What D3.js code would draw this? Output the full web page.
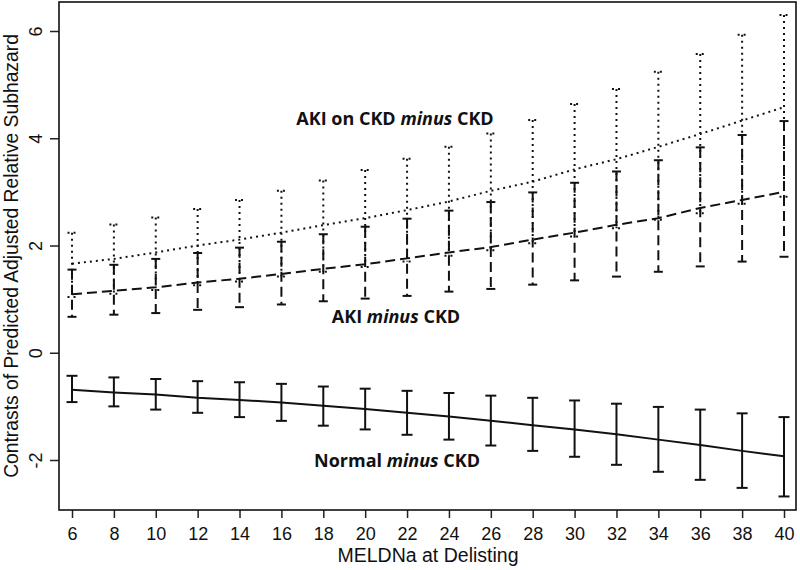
<!DOCTYPE html>
<html>
<head>
<meta charset="utf-8">
<script src="https://cdn.jsdelivr.net/npm/d3@7"></script>
<style>
  html, body { margin: 0; padding: 0; background: #fff; }
  svg { display: block; }
</style>
</head>
<body>
<svg id="chart" width="800" height="570"></svg>
<script>
// ---------------- data ----------------
const meld = [6, 8, 10, 12, 14, 16, 18, 20, 22, 24, 26, 28, 30, 32, 34, 36, 38, 40];
const xTicks = [6, 8, 10, 12, 14, 16, 18, 20, 22, 24, 26, 28, 30, 32, 34, 36, 38, 40];
const yTicks = [-2, 0, 2, 4, 6];

// Normal minus CKD
const normalEst = [-0.69, -0.74, -0.78, -0.84, -0.88, -0.93, -0.99, -1.05, -1.12, -1.19, -1.27, -1.35, -1.43, -1.52, -1.62, -1.72, -1.83, -1.93];
const normalHi  = [-0.43, -0.46, -0.49, -0.53, -0.55, -0.58, -0.63, -0.67, -0.71, -0.75, -0.80, -0.84, -0.89, -0.95, -1.01, -1.06, -1.13, -1.20];
const normalLo  = [-0.92, -1.00, -1.06, -1.12, -1.20, -1.27, -1.36, -1.43, -1.53, -1.62, -1.73, -1.83, -1.94, -2.09, -2.22, -2.37, -2.52, -2.68];

// AKI minus CKD
const akiEst = [1.09, 1.155, 1.22, 1.31, 1.38, 1.47, 1.565, 1.65, 1.76, 1.87, 1.97, 2.11, 2.24, 2.385, 2.51, 2.70, 2.85, 3.00];
const akiHi  = [1.55, 1.64, 1.75, 1.86, 1.96, 2.07, 2.21, 2.35, 2.50, 2.65, 2.81, 2.99, 3.17, 3.38, 3.59, 3.83, 4.06, 4.32];
const akiLo  = [0.67, 0.71, 0.74, 0.80, 0.85, 0.90, 0.96, 1.01, 1.06, 1.14, 1.19, 1.27, 1.35, 1.42, 1.51, 1.61, 1.70, 1.79];

// AKI on CKD minus CKD
const akiCkdEst = [1.66, 1.75, 1.87, 2.00, 2.11, 2.24, 2.38, 2.51, 2.66, 2.82, 3.02, 3.19, 3.42, 3.61, 3.84, 4.08, 4.33, 4.58];
const akiCkdHi  = [2.24, 2.39, 2.52, 2.68, 2.85, 3.02, 3.21, 3.41, 3.62, 3.84, 4.09, 4.34, 4.64, 4.92, 5.24, 5.57, 5.93, 6.30];
const akiCkdLo  = [1.04, 1.10, 1.17, 1.26, 1.33, 1.42, 1.51, 1.60, 1.70, 1.81, 1.91, 2.04, 2.17, 2.32, 2.48, 2.60, 2.78, 2.91];

const xTitle = "MELDNa at Delisting";
const yTitle = "Contrasts of Predicted Adjusted Relative Subhazard";

// ---------------- layout ----------------
const svg = d3.select("#chart");
const frame = { left: 59, right: 796, top: 2, bottom: 510 };
const x = d3.scaleLinear().domain([6, 40]).range([72, 784]);
const y = d3.scaleLinear().domain([-2, 6]).range([460, 31]);
const font = "'Liberation Sans', Arial, Helvetica, sans-serif";
const annFont = "'Open Sans', 'Noto Sans', sans-serif";
const fmt = d => String(d);

// axes
const xAxis = d3.axisBottom(x).tickValues(xTicks).tickSize(8).tickPadding(6).tickFormat(fmt);
const gx = svg.append("g").attr("transform", `translate(0,${frame.bottom})`).call(xAxis);
gx.select(".domain").remove();
gx.selectAll(".tick line").attr("stroke", "#222").attr("stroke-width", 1.5);
gx.selectAll(".tick text").attr("font-family", font).attr("font-size", 18).attr("fill", "#111").attr("dy", "0.9em");

const yAxis = d3.axisLeft(y).tickValues(yTicks).tickSize(9).tickFormat(fmt);
const gy = svg.append("g").attr("transform", `translate(${frame.left},0)`).call(yAxis);
gy.select(".domain").remove();
gy.selectAll(".tick line").attr("stroke", "#222").attr("stroke-width", 1.5);
gy.selectAll(".tick text")
  .attr("font-family", font).attr("font-size", 18).attr("fill", "#111")
  .attr("text-anchor", "middle")
  .attr("x", null).attr("dy", null)
  .attr("transform", "translate(-17,0) rotate(-90)");

// frame
svg.append("rect")
  .attr("x", frame.left).attr("y", frame.top)
  .attr("width", frame.right - frame.left).attr("height", frame.bottom - frame.top)
  .attr("fill", "none").attr("stroke", "#111").attr("stroke-width", 1.6);

// titles
svg.append("text")
  .attr("x", 428).attr("y", 562)
  .attr("text-anchor", "middle").attr("font-family", font).attr("font-size", 19.5).attr("fill", "#111")
  .text(xTitle);
svg.append("text")
  .attr("transform", `translate(18,${(frame.top + frame.bottom) / 2}) rotate(-90)`)
  .attr("text-anchor", "middle").attr("font-family", font).attr("font-size", 19.3).attr("fill", "#111")
  .text(yTitle);

// series drawing
function drawSeries(est, lo, hi, dash, capW, width) {
  const g = svg.append("g");
  const pts = meld.map((m, i) => ({ m, e: est[i], l: lo[i], h: hi[i] }));
  const bars = g.selectAll(".bar").data(pts).enter().append("g");
  bars.append("line")
    .attr("x1", d => x(d.m)).attr("x2", d => x(d.m))
    .attr("y1", d => y(d.h)).attr("y2", d => y(d.l))
    .attr("stroke", "#111").attr("stroke-width", width)
    .attr("stroke-dasharray", dash);
  ["h", "l"].forEach(k => {
    bars.append("line")
      .attr("x1", d => x(d.m) - capW / 2).attr("x2", d => x(d.m) + capW / 2)
      .attr("y1", d => y(d[k])).attr("y2", d => y(d[k]))
      .attr("stroke", "#111").attr("stroke-width", width)
      .attr("stroke-dasharray", dash.startsWith("2") ? "2,4" : "none");
  });
  const line = d3.line().x(d => x(d.m)).y(d => y(d.e));
  g.append("path").datum(pts)
    .attr("d", line).attr("fill", "none")
    .attr("stroke", "#111").attr("stroke-width", width)
    .attr("stroke-dasharray", dash);
}

drawSeries(normalEst, normalLo, normalHi, "none", 11, 2);
drawSeries(akiEst, akiLo, akiHi, "10,5", 9, 2);
drawSeries(akiCkdEst, akiCkdLo, akiCkdHi, "2,4", 9, 2);

// annotations
function annot(label, cx, by) {
  const t = svg.append("text")
    .attr("x", cx).attr("y", by)
    .attr("text-anchor", "middle").attr("font-family", annFont)
    .attr("font-size", 18).attr("font-weight", "bold").attr("fill", "#111");
  t.append("tspan").text(label[0] + " ");
  t.append("tspan").attr("font-style", "italic").text("minus");
  t.append("tspan").text(" " + label[1]);
}
annot(["AKI on CKD", "CKD"], 395, 125);
annot(["AKI", "CKD"], 396, 323);
annot(["Normal", "CKD"], 397, 467);
</script>
</body>
</html>
